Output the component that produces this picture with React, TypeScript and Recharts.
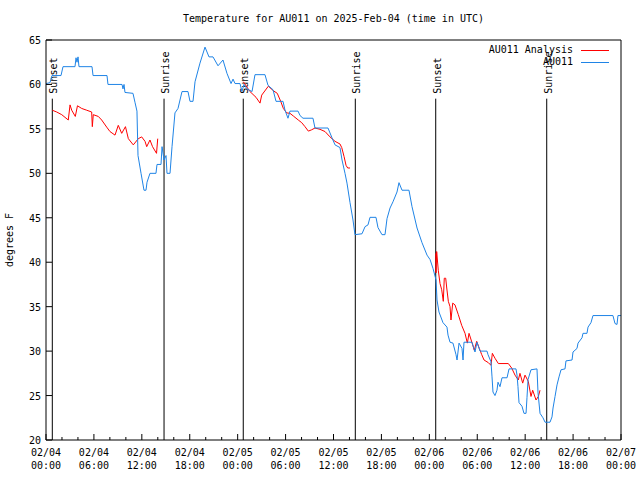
import React from 'react';
import { LineChart, Line, XAxis, YAxis, ReferenceLine, Legend } from 'recharts';

// hours since 02/04 00:00 UTC, temperature in F
const obsHours = [
  0, 0.5, 0.75, 1.88, 2.13, 3.63, 3.76, 3.88, 4.01, 4.13, 5.76, 5.89, 7.64, 7.76, 9.52, 9.64, 9.77, 9.89,
  10.89, 11.14, 11.39, 11.52, 11.9, 12.27, 12.52, 12.65, 13.02, 13.77, 13.9, 14.4, 14.53, 14.78, 15.03,
  15.15, 15.53, 15.78, 16.15, 16.53, 17.03, 17.78, 18.03, 18.41, 18.66, 19.28, 19.91, 20.41, 20.91, 21.54,
  22.16, 22.66, 23.17, 23.42, 23.67, 24.29, 24.54, 24.79, 25.17, 25.8, 26.17, 27.42, 27.8, 28.43, 28.8,
  29.68, 29.93, 30.3, 30.55, 31.56, 31.81, 32.18, 33.43, 33.68, 35.31, 35.81, 36.19, 36.81, 37.07, 37.44,
  37.69, 38.07, 38.44, 38.69, 39.57, 39.95, 40.32, 40.57, 41.32, 41.57, 42.07, 42.45, 42.7, 43.08, 43.45,
  43.95, 44.2, 44.58, 45.45, 45.83, 46.46, 47.08, 47.71, 48.09, 48.46, 48.84, 48.96, 49.21, 49.71, 50.21,
  50.34, 50.59, 50.96, 51.34, 51.47, 51.72, 52.09, 52.22, 52.34, 53.34, 53.72, 53.97, 54.35, 55.22, 55.35,
  55.72, 55.85, 55.97, 56.22, 56.47, 56.6, 56.85, 57.1, 57.73, 57.98, 58.85, 58.98, 59.1, 59.23, 59.6,
  59.85, 60.11, 60.23, 60.36, 60.73, 61.48, 61.61, 61.86, 62.23, 62.49, 63.11, 63.36, 63.49, 63.74, 63.99,
  64.24, 64.49, 64.99, 65.11, 65.87, 65.99, 66.49, 66.62, 67.12, 67.24, 67.74, 67.87, 68.24, 68.49, 70.99,
  71.25, 71.5, 71.62, 72,
];
const obsTemps = [
  60.1, 60.2, 61, 61, 62, 62, 63, 62.5, 63.1, 62, 62, 61, 61, 60, 60, 59.5, 60, 59.1,
  59, 58, 57, 52, 50, 48.1, 48.1, 49, 50, 50, 51, 51, 53, 51.5, 52,
  50, 50, 53, 56.8, 57.3, 59.2, 59.2, 58.1, 58.1, 60.3, 62.4, 64.2, 63.1, 63.1, 62.1,
  62.75, 61.25, 60.1, 60.6, 60.1, 60.1, 59.2, 60, 59.5, 59.2, 61.1, 61.1, 59.9, 59.4, 58.1,
  58.1, 57.1, 56.2, 57, 57, 56.5, 56.2, 56.2, 55.1, 55.1, 54, 53.2, 52.9, 51.5, 50,
  48.9, 46.7, 44.75, 43.1, 43.2, 44, 44.2, 45.05, 45.05, 43.9, 43.1, 43.1, 44.9, 46.1, 46.8,
  47.9, 48.95, 48.1, 48.1, 46.25, 43.85, 42.2, 40.8, 40.3, 39.3, 38, 35.75, 34.4, 33.2, 32.7,
  31.8, 31, 30.9, 29.6, 29, 30.9, 30.3, 29, 31, 31, 29.9, 31, 30, 30, 29.6,
  28.8, 27.1, 25.4, 25, 25.6, 26.5, 26, 27, 27, 28, 28, 27.3, 26, 24.2, 23.8,
  23, 23, 24.8, 26.8, 27.9, 28, 25.3, 23, 22.5, 22, 22, 22.6, 23.6, 24.9, 26.2,
  27.1, 27.9, 28, 28.9, 29, 29.9, 30.3, 30.9, 31.5, 32, 32, 32.7, 33.2, 34, 34,
  33.1, 33, 34, 34,
];

// analysis runs, one per night
const anaHours1 = [
  0.79, 1.34, 1.97, 2.79, 3.01, 3.22, 3.67, 3.94, 4.47, 5.1, 5.72, 5.8, 5.92, 6.55, 6.97, 7.6, 8.01,
  8.64, 9.05, 9.48, 9.95, 10.31, 10.93, 11.56, 11.98, 12.4, 12.61, 13.02, 13.34, 13.84, 13.99,
];
const anaTemps1 = [
  57.1, 56.9, 56.6, 56, 57.7, 57.1, 56.4, 57.6, 57.3, 57.1, 56.9, 55.25, 56.6, 56.4, 56, 55.2, 54.7,
  54.3, 55.4, 54.5, 55.25, 53.9, 53.2, 53.9, 54.1, 53.6, 53, 53.75, 53, 52.25, 53.9,
];
const anaHours2 = [
  24.71, 25.54, 26.3, 26.8, 27.01, 27.84, 28.46, 28.96, 29.39, 29.72, 30.14, 30.55, 30.97, 31.59, 32.02,
  32.43, 32.85, 33.27, 33.68, 34.31, 34.94, 35.56, 36.19, 36.81, 37.03, 37.32, 37.57, 37.78, 38.07,
];
const anaTemps2 = [
  60.3, 59.2, 58.55, 57.9, 58.8, 59.8, 59.3, 59, 58.1, 57.3, 56.8, 56.75, 56.45, 56, 55.7,
  55.25, 54.75, 54.9, 55.1, 54.95, 54.7, 54.1, 53.6, 53.3, 52.9, 51.9, 50.9, 50.6, 50.6,
];
const anaHours3 = [
  48.8, 48.84, 48.92, 49.12, 49.34, 49.55, 49.75, 49.87, 50.05, 50.18, 50.38, 50.59, 50.71, 50.93, 51.21,
  51.63, 52.05, 52.47, 52.76, 52.97, 53.43, 53.63, 53.93, 54.26, 54.56, 54.85, 55.39, 55.72, 55.89, 56.22,
  56.64, 57.89, 58.31, 58.73, 59.14, 59.35, 59.69, 59.98, 60.39, 60.73, 60.94, 61.36, 61.65, 61.86,
];
const anaTemps3 = [
  41, 38.8, 41.2, 39.1, 37.6, 36.9, 35.6, 38.2, 38.2, 37.1, 35.6, 35, 33.5, 35.4, 35.2,
  34.1, 32.9, 32, 30.9, 32, 30.7, 30.1, 31.1, 30.3, 29.6, 29, 28.7, 28.4, 29.75, 29.2,
  28.6, 28.6, 28.1, 27.3, 26.75, 27.5, 26.4, 27.3, 26.6, 24.9, 25.6, 24.5, 24.9, 25.6,
];

const sunHours = [0.79, 14.78, 24.7, 38.73, 48.8, 62.7];
const sunNames = ['Sunset', 'Sunrise', 'Sunset', 'Sunrise', 'Sunset', 'Sunrise'];
const sunLineTop = 58.4;

const xTicks = [
  0, 2, 4, 6, 8, 10, 12, 14, 16, 18, 20, 22, 24, 26, 28, 30, 32, 34, 36, 38, 40, 42, 44, 46, 48, 50, 52,
  54, 56, 58, 60, 62, 64, 66, 68, 70, 72,
];
const xTickDays = ['02/04', '02/04', '02/04', '02/04', '02/05', '02/05', '02/05', '02/05', '02/06', '02/06', '02/06', '02/06', '02/07'];
const xTickTimes = ['00:00', '06:00', '12:00', '18:00', '00:00', '06:00', '12:00', '18:00', '00:00', '06:00', '12:00', '18:00', '00:00'];
const yTicks = [20, 25, 30, 35, 40, 45, 50, 55, 60, 65];
const legendOrder = ['AU011 Analysis', 'AU011'];

const FONT = '"DejaVu Sans Mono", monospace';
const BLUE = '#1f84e6';
const RED = '#ff0000';

const toPoints = (hours: number[], temps: number[]) => hours.map((h, i) => ({ h, t: temps[i] }));

const BottomTick = (props: any) => {
  const { x, y, payload } = props;
  const h = payload.value;
  const major = h % 6 === 0;
  const i = h / 6;
  return (
    <g>
      <line x1={x} x2={x} y1={y} y2={y - (major ? 6 : 3)} stroke="#000" />
      {major && (
        <text fontFamily={FONT} fontSize={10} fill="#000" textAnchor="middle">
          <tspan x={x} y={y + 16}>{xTickDays[i]}</tspan>
          <tspan x={x} y={y + 29}>{xTickTimes[i]}</tspan>
        </text>
      )}
    </g>
  );
};

const TopTick = (props: any) => {
  const { x, y, payload } = props;
  const major = payload.value % 6 === 0;
  return <line x1={x} x2={x} y1={y} y2={y + (major ? 6 : 3)} stroke="#000" />;
};

const LeftTick = (props: any) => {
  const { x, y, payload } = props;
  return (
    <g>
      <line x1={x} x2={x + 6} y1={y} y2={y} stroke="#000" />
      <text x={x - 5} y={y + 4} textAnchor="end" fontFamily={FONT} fontSize={10} fill="#000">
        {payload.value}
      </text>
    </g>
  );
};

const RightTick = (props: any) => {
  const { x, y } = props;
  return <line x1={x} x2={x - 6} y1={y} y2={y} stroke="#000" />;
};

const SunLabel = (props: any) => {
  const { viewBox, text } = props;
  if (!viewBox) return null;
  return (
    <text
      transform={`translate(${viewBox.x + 5},${viewBox.y - 5}) rotate(-90)`}
      textAnchor="start"
      fontFamily={FONT}
      fontSize={10}
      fill="#000"
    >
      {text}
    </text>
  );
};

const TitleLabel = (props: any) => {
  const { viewBox } = props;
  if (!viewBox) return null;
  return (
    <text x={viewBox.x + viewBox.width / 2} y={22} textAnchor="middle" fontFamily={FONT} fontSize={10} fill="#000">
      Temperature for AU011 on 2025-Feb-04 (time in UTC)
    </text>
  );
};

const YTitle = (props: any) => {
  const { viewBox } = props;
  if (!viewBox) return null;
  const cy = viewBox.y + viewBox.height / 2;
  return (
    <text transform={`translate(13,${cy}) rotate(-90)`} textAnchor="middle" fontFamily={FONT} fontSize={10} fill="#000">
      degrees F
    </text>
  );
};

const renderLegend = (props: any) => {
  const items = (props.payload || [])
    .filter((p: any) => legendOrder.includes(p.value))
    .sort((a: any, b: any) => legendOrder.indexOf(a.value) - legendOrder.indexOf(b.value));
  return (
    <div style={{ fontFamily: FONT, fontSize: 10, lineHeight: '12px', color: '#000' }}>
      {items.map((p: any) => (
        <div key={p.value} style={{ display: 'flex', justifyContent: 'flex-end', alignItems: 'center', height: 12 }}>
          <span>{p.value}</span>
          <span style={{ display: 'inline-block', width: 28, height: 1, background: p.color, marginLeft: 8, marginRight: 12 }} />
        </div>
      ))}
    </div>
  );
};

export default function App() {
  return (
    <div style={{ position: 'absolute', left: 0, top: 0, width: 640, height: 480, background: '#fff' }}>
      <LineChart width={640} height={480} margin={{ top: 0, right: 0, bottom: 0, left: 0 }}>
        <XAxis
          dataKey="h"
          type="number"
          domain={[0, 72]}
          ticks={xTicks}
          interval={0}
          height={40}
          tickSize={0}
          tickMargin={0}
          tickLine={false}
          axisLine={{ stroke: '#000' }}
          tick={(p: any) => <BottomTick {...p} />}
          allowDataOverflow
        />
        <XAxis
          xAxisId="top"
          orientation="top"
          type="number"
          domain={[0, 72]}
          ticks={xTicks}
          interval={0}
          height={40}
          tickSize={0}
          tickMargin={0}
          tickLine={false}
          axisLine={{ stroke: '#000' }}
          tick={(p: any) => <TopTick {...p} />}
          label={<TitleLabel />}
        />
        <YAxis
          type="number"
          domain={[20, 65]}
          ticks={yTicks}
          interval={0}
          width={46}
          tickSize={0}
          tickMargin={0}
          tickLine={false}
          axisLine={{ stroke: '#000' }}
          tick={(p: any) => <LeftTick {...p} />}
          label={<YTitle />}
          allowDataOverflow
        />
        <YAxis
          yAxisId="right"
          orientation="right"
          type="number"
          domain={[20, 65]}
          ticks={yTicks}
          interval={0}
          width={19}
          tickSize={0}
          tickMargin={0}
          tickLine={false}
          axisLine={{ stroke: '#000' }}
          tick={(p: any) => <RightTick {...p} />}
        />
        {sunHours.map((h, i) => (
          <ReferenceLine
            key={`sun-${i}`}
            segment={[{ x: h, y: 20 }, { x: h, y: sunLineTop }]}
            stroke="#000"
            strokeWidth={1}
            label={<SunLabel text={sunNames[i]} />}
          />
        ))}
        <Line data={toPoints(anaHours1, anaTemps1)} dataKey="t" name="AU011 Analysis" stroke={RED} strokeWidth={1} dot={false} isAnimationActive={false} />
        <Line data={toPoints(anaHours2, anaTemps2)} dataKey="t" name="AU011 Analysis 2" legendType="none" stroke={RED} strokeWidth={1} dot={false} isAnimationActive={false} />
        <Line data={toPoints(anaHours3, anaTemps3)} dataKey="t" name="AU011 Analysis 3" legendType="none" stroke={RED} strokeWidth={1} dot={false} isAnimationActive={false} />
        <Line data={toPoints(obsHours, obsTemps)} dataKey="t" name="AU011" stroke={BLUE} strokeWidth={1} dot={false} isAnimationActive={false} />
        <Legend
          layout="horizontal"
          verticalAlign="middle"
          align="center"
          content={renderLegend}
          wrapperStyle={{ top: 44, left: 401, width: 220, height: 26 }}
        />
      </LineChart>
    </div>
  );
}
